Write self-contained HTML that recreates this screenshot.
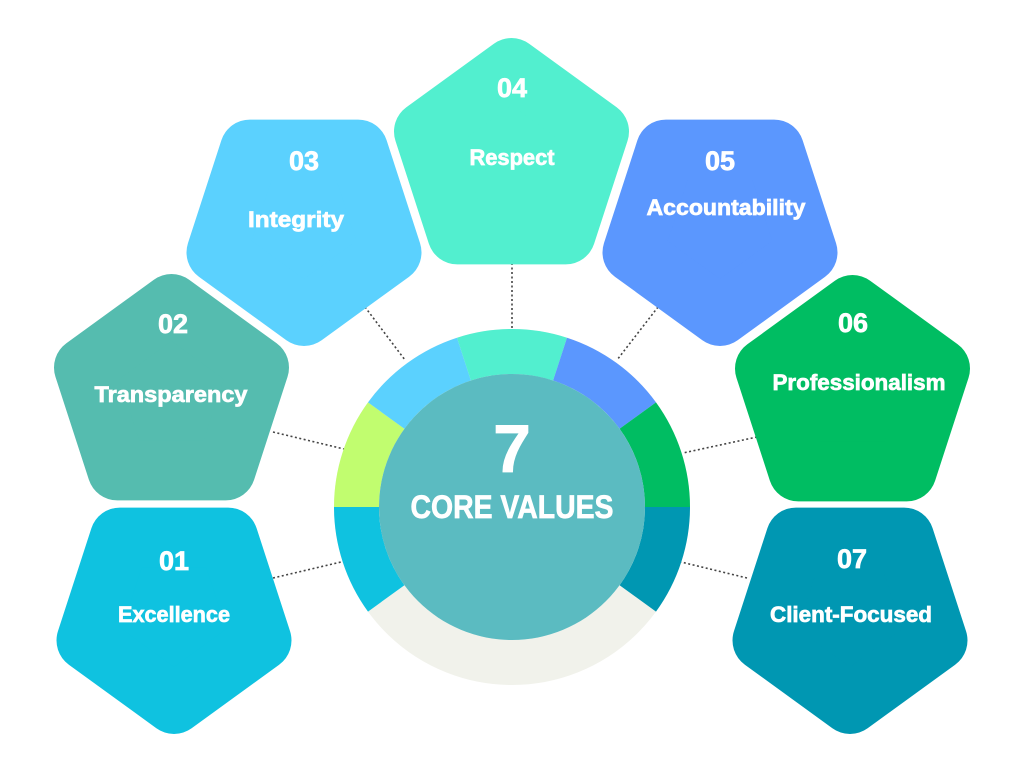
<!DOCTYPE html>
<html><head><meta charset="utf-8"><style>html,body{margin:0;padding:0;background:#fff}svg{display:block}</style></head>
<body>
<svg width="1024" height="768" viewBox="0 0 1024 768" xmlns="http://www.w3.org/2000/svg" font-family="Liberation Sans, sans-serif" font-weight="bold">
<defs>
<polygon id="up" points="0,-92 87.5,-28.43 54.08,74.43 -54.08,74.43 -87.5,-28.43" stroke-width="60" stroke-linejoin="round"/>
<polygon id="dn" points="0,92 87.5,28.43 54.08,-74.43 -54.08,-74.43 -87.5,28.43" stroke-width="60" stroke-linejoin="round"/>
</defs>
<g stroke="#444" stroke-width="1.6" stroke-dasharray="2,2.5" fill="none">
<line x1="365" y1="307" x2="405" y2="360"/>
<line x1="512" y1="263" x2="512" y2="328"/>
<line x1="658" y1="307" x2="617" y2="360"/>
<line x1="273" y1="432" x2="344" y2="449"/>
<line x1="273" y1="578" x2="341" y2="562"/>
<line x1="757" y1="437" x2="683" y2="453"/>
<line x1="747" y1="578" x2="681" y2="562"/>
</g>
<use href="#up" x="171.5" y="396" fill="#55bcaf" stroke="#55bcaf"/>
<use href="#dn" x="174" y="612" fill="#0fc2e0" stroke="#0fc2e0"/>
<use href="#dn" x="304" y="224" fill="#5bd1fe" stroke="#5bd1fe"/>
<use href="#up" x="511.5" y="160" fill="#52efcf" stroke="#52efcf"/>
<use href="#dn" x="720" y="224" fill="#5b97fe" stroke="#5b97fe"/>
<use href="#up" x="852.5" y="397" fill="#00bd62" stroke="#00bd62"/>
<use href="#dn" x="850" y="612" fill="#0097b2" stroke="#0097b2"/>
<g transform="translate(512,507)">
<circle r="155.5" fill="none" stroke="#f1f2eb" stroke-width="45"/>
<path d="M-178,0 A178,178 0 0 0 -144,104.6 L-107.6,78.2 A133,133 0 0 1 -133,0Z" fill="#0fc2e0"/>
<path d="M-178,0 A178,178 0 0 1 -144,-104.6 L-107.6,-78.2 A133,133 0 0 0 -133,0Z" fill="#c1fd6f"/>
<path d="M-144,-104.6 A178,178 0 0 1 -55,-169.3 L-41.1,-126.5 A133,133 0 0 0 -107.6,-78.2Z" fill="#5bd1fe"/>
<path d="M-55,-169.3 A178,178 0 0 1 55,-169.3 L41.1,-126.5 A133,133 0 0 0 -41.1,-126.5Z" fill="#52efcf"/>
<path d="M55,-169.3 A178,178 0 0 1 144,-104.6 L107.6,-78.2 A133,133 0 0 0 41.1,-126.5Z" fill="#5b97fe"/>
<path d="M144,-104.6 A178,178 0 0 1 178,0 L133,0 A133,133 0 0 0 107.6,-78.2Z" fill="#00bd62"/>
<path d="M178,0 A178,178 0 0 1 144,104.6 L107.6,78.2 A133,133 0 0 0 133,0Z" fill="#0097b2"/>
<circle r="133" fill="#5bbbc1"/>
</g>
<g fill="#fff" stroke="#fff" stroke-width="0.7" text-anchor="middle">
<text x="512" y="472" font-size="68">7</text>
<text x="512" y="518" font-size="32" textLength="203" lengthAdjust="spacingAndGlyphs">CORE VALUES</text>
<g font-size="27">
<text x="173" y="333">02</text>
<text x="174" y="570">01</text>
<text x="304" y="170">03</text>
<text x="512" y="97">04</text>
<text x="720" y="170">05</text>
<text x="853" y="332">06</text>
<text x="852" y="568">07</text>
</g>
<g font-size="22">
<text x="171" y="402" textLength="153" lengthAdjust="spacingAndGlyphs">Transparency</text>
<text x="174" y="622" textLength="112" lengthAdjust="spacingAndGlyphs">Excellence</text>
<text x="296" y="227" textLength="96" lengthAdjust="spacingAndGlyphs">Integrity</text>
<text x="512" y="165" textLength="85" lengthAdjust="spacingAndGlyphs">Respect</text>
<text x="726" y="215" textLength="159" lengthAdjust="spacingAndGlyphs">Accountability</text>
<text x="859" y="390" textLength="173" lengthAdjust="spacingAndGlyphs">Professionalism</text>
<text x="851" y="622" textLength="162" lengthAdjust="spacingAndGlyphs">Client-Focused</text>
</g>
</g>
</svg>
</body></html>
